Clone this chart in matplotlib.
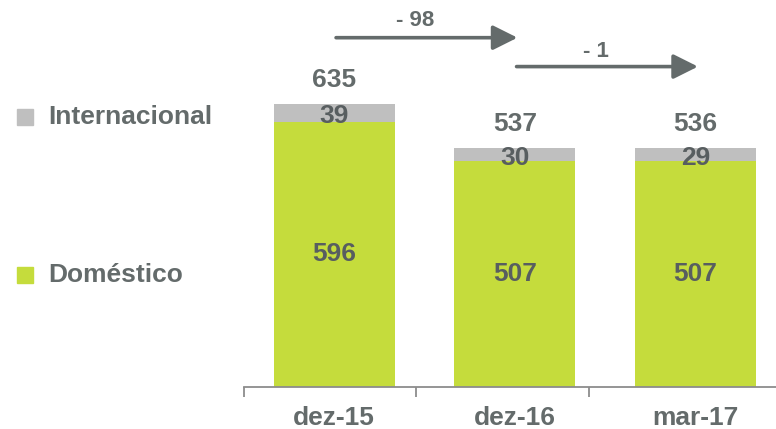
import matplotlib
matplotlib.use("Agg")
import matplotlib.pyplot as plt
from matplotlib.patches import FancyArrowPatch

# Data
categories = ["dez-15", "dez-16", "mar-17"]
domestico = [596, 507, 507]
internacional = [39, 30, 29]
totals = [635, 537, 536]
series_names = ["Internacional", "Doméstico"]

GREEN = "#C5DC3C"
GRAY = "#BFBFBF"
TEXT = "#646B6B"
TEXT_IN = "#585E60"

plt.rcParams["font.family"] = ["Liberation Sans", "DejaVu Sans"]
plt.rcParams["font.weight"] = "bold"

W, H = 776, 429
fig = plt.figure(figsize=(W / 100, H / 100), dpi=100)
fig.patch.set_facecolor("white")

# Axes placed in pixel terms: x axis line at y=386.7 px from top
ax_left, ax_right = 244, 776
ax_bottom = H - 386.7
ax = fig.add_axes([ax_left / W, ax_bottom / H, (ax_right - ax_left) / W, 1 - ax_bottom / H])
ax.set_facecolor("none")

spacing = 180.5  # px per category
ax.set_xlim(-0.5, -0.5 + (ax_right - ax_left) / spacing)
px_per_unit = 0.4446
ax.set_ylim(0, 386.7 / px_per_unit)

x = list(range(len(categories)))
bw = 121 / spacing
ax.bar(x, domestico, width=bw, color=GREEN, zorder=2)
ax.bar(x, internacional, width=bw, bottom=domestico, color=GRAY, zorder=2)

def px(n):
    return n / px_per_unit

FS = 19
for i in x:
    d, it, t = domestico[i], internacional[i], totals[i]
    ax.text(i, d / 2, f"{d}", ha="center", va="center", fontsize=FS,
            color=TEXT_IN, fontweight="bold", zorder=3)
    ax.text(i, d + it / 2 - px(3), f"{it}", ha="center", va="center", fontsize=FS,
            color=TEXT_IN, fontweight="bold", zorder=3)
    ax.text(i, t + px(24), f"{t}", ha="center", va="center", fontsize=FS,
            color=TEXT, fontweight="bold", zorder=3)

# Change arrows between consecutive periods
arrow_y = [785, 720]
label_y = [823, 753]
for k in range(len(categories) - 1):
    diff = totals[k + 1] - totals[k]
    arr = FancyArrowPatch((k + 0.01, arrow_y[k]), (k + 1 + 0.015, arrow_y[k]),
                          arrowstyle="-|>,head_length=1.0,head_width=0.5",
                          mutation_scale=15, color=TEXT, lw=2.6,
                          shrinkA=0, shrinkB=0, clip_on=False)
    ax.add_patch(arr)
    sign = "-" if diff < 0 else "+"
    ax.text(k + 0.45, label_y[k], f"{sign} {abs(diff)}", ha="center", va="center",
            fontsize=16, color=TEXT, fontweight="bold")

# Axis styling
for s in ["top", "right", "left"]:
    ax.spines[s].set_visible(False)
ax.spines["bottom"].set_color("#8C8C8C")
ax.spines["bottom"].set_linewidth(1.3)
ax.set_yticks([])
ax.set_xticks(x)
ax.set_xticklabels(categories, fontsize=FS, fontweight="bold", color=TEXT)
ax.tick_params(axis="x", which="major", length=0, pad=14)
ax.set_xticks([-0.5, (416 - ax_left) / spacing - 0.5, (589 - ax_left) / spacing - 0.5], minor=True)
ax.tick_params(axis="x", which="minor", length=7, width=1.3, color="#8C8C8C", direction="out")

# Legend drawn in figure pixel space
legend_items = [(series_names[0], GRAY, 116.5), (series_names[1], GREEN, 275)]
for label, col, yc in legend_items:
    fig.patches.append(plt.Rectangle((17 / W, 1 - (yc + 8) / H), 16 / W, 16 / H,
                                     transform=fig.transFigure, color=col, figure=fig))
    fig.text(48 / W, 1 - yc / H, label, ha="left", va="center", fontsize=FS,
             fontweight="bold", color=TEXT)

fig.savefig("out.png", dpi=100, facecolor="white")
